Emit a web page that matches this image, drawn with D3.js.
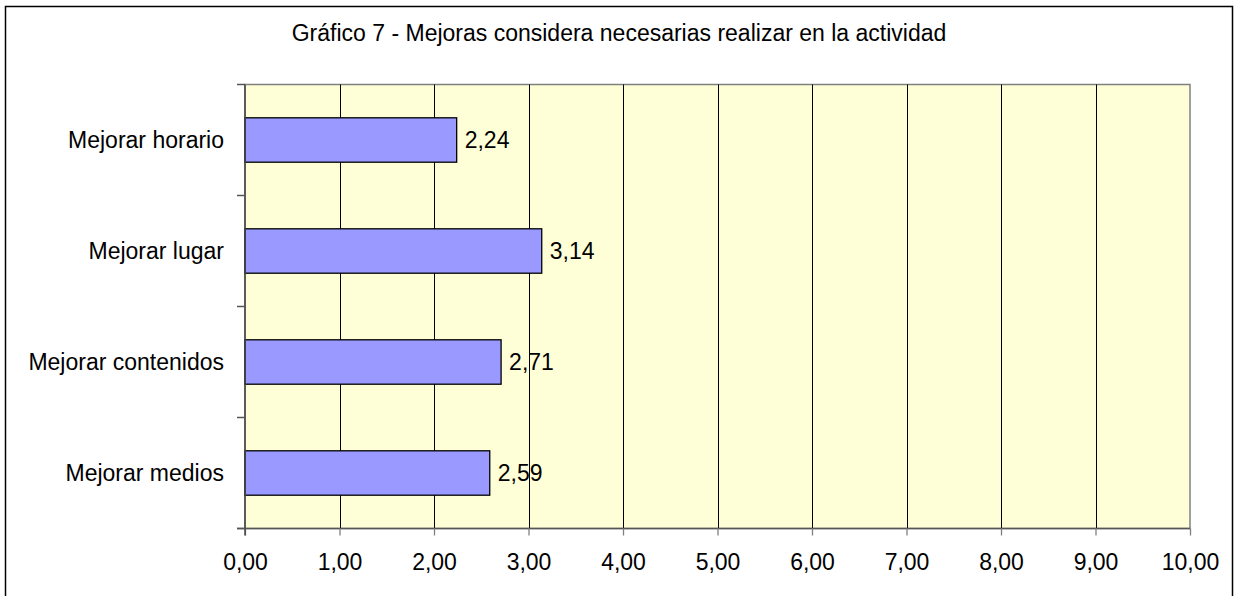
<!DOCTYPE html>
<html>
<head>
<meta charset="utf-8">
<script src="https://cdn.jsdelivr.net/npm/d3@7"></script>
<style>
  html, body { margin: 0; padding: 0; background: #fff; }
  svg { display: block; font-family: Arial, "Liberation Sans", sans-serif; }
</style>
</head>
<body>
<svg id="chart" width="1238" height="596"></svg>
<script>
// Chart data
const title = "Gráfico 7 - Mejoras considera necesarias realizar en la actividad";
const categories = ["Mejorar horario", "Mejorar lugar", "Mejorar contenidos", "Mejorar medios"];
const values = [2.24, 3.14, 2.71, 2.59];
const xTicks = [0, 1, 2, 3, 4, 5, 6, 7, 8, 9, 10];

const svg = d3.select("#chart");
const plot = { left: 245, right: 1190, top: 84.5, bottom: 528.5 };
const fontSize = 23;
const fmt = v => d3.format(".2f")(v).replace(".", ",");

// Outer frame
svg.append("rect")
  .attr("x", 5.5).attr("y", 6.5)
  .attr("width", 1227).attr("height", 600)
  .attr("fill", "#fff").attr("stroke", "#000").attr("stroke-width", 1.5);

// Title
svg.append("text")
  .attr("x", 619).attr("y", 40.5)
  .attr("text-anchor", "middle")
  .attr("font-size", fontSize)
  .attr("fill", "#000")
  .text(title);

const x = d3.scaleLinear().domain([0, 10]).range([plot.left, plot.right]);
const y = d3.scaleBand().domain(categories).range([plot.top, plot.bottom]).paddingInner(0.6).paddingOuter(0.3);

// Plot background
svg.append("rect")
  .attr("x", plot.left).attr("y", plot.top)
  .attr("width", plot.right - plot.left).attr("height", plot.bottom - plot.top)
  .attr("fill", "#FFFFD7")
  .attr("stroke", "#808080").attr("stroke-width", 1.5);

// Vertical gridlines
svg.append("g")
  .selectAll("line")
  .data(xTicks.slice(1, -1))
  .join("line")
  .attr("x1", d => Math.round(x(d)) + 0.5).attr("x2", d => Math.round(x(d)) + 0.5)
  .attr("y1", plot.top).attr("y2", plot.bottom)
  .attr("stroke", "#000").attr("stroke-width", 1);

// Bars
svg.append("g")
  .selectAll("rect")
  .data(categories)
  .join("rect")
  .attr("x", x(0))
  .attr("y", (d) => y(d))
  .attr("width", (d, i) => x(values[i]) - x(0))
  .attr("height", y.bandwidth())
  .attr("fill", "#9999FF")
  .attr("stroke", "#000").attr("stroke-width", 1.3);

// Value labels
svg.append("g")
  .selectAll("text")
  .data(categories)
  .join("text")
  .attr("x", (d, i) => x(values[i]) + 8)
  .attr("y", d => y(d) + y.bandwidth() / 2)
  .attr("dy", "0.35em")
  .attr("font-size", fontSize)
  .attr("fill", "#000")
  .text((d, i) => fmt(values[i]));

// X axis
const xAxis = svg.append("g")
  .attr("transform", `translate(0,${plot.bottom})`)
  .call(d3.axisBottom(x).tickValues(xTicks).tickFormat(fmt).tickSize(7).tickPadding(18));
xAxis.select(".domain").attr("stroke", "#555").attr("stroke-width", 1.5)
  .attr("d", `M${plot.left - 8},0H${plot.right}`);
xAxis.selectAll(".tick line").attr("stroke", "#808080").attr("stroke-width", 1.3);
xAxis.selectAll(".tick text")
  .attr("font-size", fontSize)
  .attr("font-family", "Arial, 'Liberation Sans', sans-serif")
  .attr("fill", "#000");

// Y axis line and category boundary ticks
const yAxisG = svg.append("g");
yAxisG.append("line")
  .attr("x1", plot.left).attr("x2", plot.left)
  .attr("y1", plot.top).attr("y2", plot.bottom + 7)
  .attr("stroke", "#444").attr("stroke-width", 1.5);
const boundaries = d3.range(categories.length + 1).map(i => plot.top + i * (plot.bottom - plot.top) / categories.length);
yAxisG.selectAll("line.tk")
  .data(boundaries)
  .join("line")
  .attr("class", "tk")
  .attr("x1", plot.left - 8).attr("x2", plot.left)
  .attr("y1", d => d).attr("y2", d => d)
  .attr("stroke", "#555").attr("stroke-width", 1.5);

// Category labels
yAxisG.selectAll("text")
  .data(categories)
  .join("text")
  .attr("x", 224)
  .attr("y", d => y(d) + y.bandwidth() / 2)
  .attr("dy", "0.35em")
  .attr("text-anchor", "end")
  .attr("font-size", fontSize)
  .attr("fill", "#000")
  .text(d => d);
</script>
</body>
</html>
